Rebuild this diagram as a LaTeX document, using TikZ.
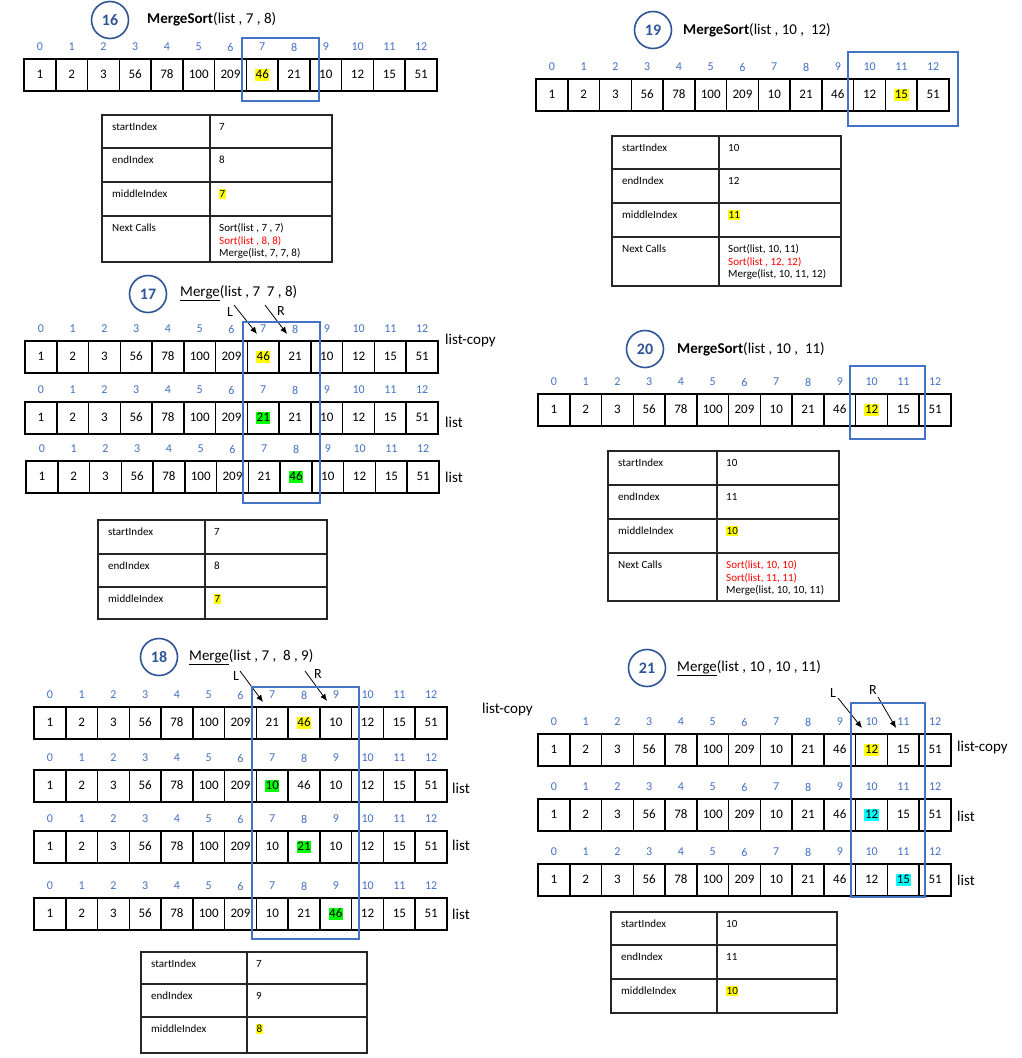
\documentclass[tikz,border=0pt]{standalone}
\usepackage{fontspec}
\setmainfont{Carlito}
\usetikzlibrary{arrows.meta}

\definecolor{idxblue}{HTML}{4472C4}
\definecolor{ringblue}{HTML}{2F5597}
\definecolor{hlyellow}{HTML}{FFFF00}
\definecolor{hlgreen}{HTML}{00FF00}
\definecolor{hlcyan}{HTML}{00FFFF}
\definecolor{callred}{HTML}{FF0000}
\definecolor{gridgray}{HTML}{262626}

% highlighted number inside an array cell
\newcommand{\hlnum}[2]{{\setlength{\fboxsep}{0.6pt}\colorbox{#1}{\rule[-1.5pt]{0pt}{10pt}#2}}}
% highlighted value inside a table
\newcommand{\thl}[1]{{\setlength{\fboxsep}{0.5pt}\colorbox{hlyellow}{\rule[-1.5pt]{0pt}{9pt}#1}}}

\tikzset{
  cellbox/.style={draw, line width=1.5pt, minimum width=31.77pt, minimum height=32pt,
    inner sep=0pt, outer sep=0pt, anchor=north west,
    font=\fontsize{13}{15}\selectfont, text height=9pt, text depth=2pt},
  rowframe/.style={draw, line width=2.3pt},
  idxlabel/.style={text=idxblue, inner sep=0pt, font=\fontsize{12}{14}\selectfont},
  selbox/.style={draw=idxblue, line width=1.8pt},
  ring/.style={circle, draw=ringblue, line width=1.6pt, minimum size=37pt, inner sep=0pt,
    text=ringblue, font=\bfseries\fontsize{16}{18}\selectfont},
  title/.style={anchor=west, inner sep=0pt, font=\fontsize{15}{18}\selectfont},
  side/.style={anchor=west, inner sep=0pt, font=\fontsize{15}{18}\selectfont},
  ptrlabel/.style={inner sep=0pt, font=\fontsize{14}{16}\selectfont},
  ptr/.style={draw, line width=0.8pt, -{Latex[length=7pt,width=6pt]}},
  tcell/.style={draw=gridgray, line width=1.2pt, anchor=north west, inner sep=0pt, outer sep=0pt},
  ttext/.style={anchor=base west, inner sep=0pt, font=\fontsize{11}{12.5}\selectfont},
  tlines/.style={anchor=north west, inner sep=0pt, align=left, font=\fontsize{11}{12.5}\selectfont},
}

% one array of 13 cells with its index numbers
% #1 name, #2 left x, #3 top y, #4 values, #5 highlighted index, #6 highlight colour
\newcommand{\cellrow}[6]{%
  \foreach \v [count=\i from 0] in {#4}{%
    \node[cellbox] (#1-\i) at ({#2+\i*31.77},#3) {\ifnum\i=#5\relax\hlnum{#6}{\v}\else\v\fi};
    \node[idxlabel] (#1-n\i) at ([yshift=12pt]#1-\i.north) {\i};
  }
  \draw[rowframe] (#1-0.north west) rectangle (#1-12.south east);
}

% one table row: #1 name, #2 left x, #3 split x, #4 right x, #5 top y, #6 bottom y, #7 label, #8 value
\newcommand{\trow}[8]{%
  \pgfmathsetmacro\tlw{#3-#2}\pgfmathsetmacro\trw{#4-#3}\pgfmathsetmacro\trh{#6-#5}%
  \node[tcell, minimum width=\tlw pt, minimum height=\trh pt] (#1-a) at (#2,#5) {};
  \node[tcell, minimum width=\trw pt, minimum height=\trh pt] (#1-b) at (#3,#5) {};
  \node[ttext] (#1-l) at ([xshift=10pt,yshift=-15pt]#1-a.north west) {#7};
  \node[ttext] (#1-v) at ([xshift=9pt,yshift=-15pt]#1-b.north west) {#8};
}
% the "Next Calls" row with several lines of calls
\newcommand{\tnextrow}[7]{%
  \pgfmathsetmacro\tlw{#3-#2}\pgfmathsetmacro\trw{#4-#3}\pgfmathsetmacro\trh{#6-#5}%
  \node[tcell, minimum width=\tlw pt, minimum height=\trh pt] (#1-a) at (#2,#5) {};
  \node[tcell, minimum width=\trw pt, minimum height=\trh pt] (#1-b) at (#3,#5) {};
  \node[ttext] (#1-l) at ([xshift=10pt,yshift=-15pt]#1-a.north west) {Next Calls};
  \node[tlines] (#1-v) at ([xshift=9pt,yshift=-7.3pt]#1-b.north west) {#7};
}

\begin{document}
\begin{tikzpicture}[x=1pt,y=-1pt]
\fill[white] (0,0) rectangle (1021,1058);
\useasboundingbox (0,0) rectangle (1021,1058);

% ---------------- step 16 ----------------
\node[ring] (c16) at (110,20) {16};
\node[title] (h16) at (147,19) {\textbf{MergeSort}(list , 7 , 8)};
\cellrow{a16}{24}{59}{1,2,3,56,78,100,209,46,21,10,12,15,51}{7}{hlyellow}
\draw[selbox] (242,38) rectangle (319,101);
\trow{t16r1}{102}{210}{332}{115}{148}{startIndex}{7}
\trow{t16r2}{102}{210}{332}{148}{182}{endIndex}{8}
\trow{t16r3}{102}{210}{332}{182}{216}{middleIndex}{\thl{7}}
\tnextrow{t16r4}{102}{210}{332}{216}{262}{Sort(list , 7 , 7)\\\textcolor{callred}{Sort(list , 8, 8)}\\Merge(list, 7, 7, 8)}

% ---------------- step 17 ----------------
\node[ring] (c17) at (148,294) {17};
\node[title] (h17) at (180,293) {\underline{Merge}(list , 7~~7 , 8)};
\node[ptrlabel] (l17) at (230,312) {L};
\node[ptrlabel] (r17) at (281,311) {R};
\coordinate (l17s) at (234,305); \coordinate (l17e) at (257,334);
\coordinate (r17s) at (265,305); \coordinate (r17e) at (287,334);
\draw[ptr] (l17s) -- (l17e);
\draw[ptr] (r17s) -- (r17e);
\cellrow{a17x}{25}{341}{1,2,3,56,78,100,209,46,21,10,12,15,51}{7}{hlyellow}
\cellrow{a17y}{25}{402}{1,2,3,56,78,100,209,21,21,10,12,15,51}{7}{hlgreen}
\cellrow{a17z}{26}{461}{1,2,3,56,78,100,209,21,46,10,12,15,51}{8}{hlgreen}
\draw[selbox] (243,322) rectangle (320,503);
\node[side] (s17x) at (445,340) {list-copy};
\node[side] (s17y) at (445,422) {list};
\node[side] (s17z) at (445,477) {list};
\trow{t17r1}{98}{205}{327}{520}{554}{startIndex}{7}
\trow{t17r2}{98}{205}{327}{554}{587}{endIndex}{8}
\trow{t17r3}{98}{205}{327}{587}{619}{middleIndex}{\thl{7}}

% ---------------- step 18 ----------------
\node[ring] (c18) at (159,657) {18};
\node[title] (h18) at (189,657) {\underline{Merge}(list , 7 ,~ 8 , 9)};
\node[ptrlabel] (l18) at (236,676) {L};
\node[ptrlabel] (r18) at (318,674) {R};
\coordinate (l18s) at (240,671); \coordinate (l18e) at (263,702);
\coordinate (r18s) at (305,671); \coordinate (r18e) at (327,701);
\draw[ptr] (l18s) -- (l18e);
\draw[ptr] (r18s) -- (r18e);
\cellrow{a18w}{34}{707}{1,2,3,56,78,100,209,21,46,10,12,15,51}{8}{hlyellow}
\cellrow{a18x}{34}{770}{1,2,3,56,78,100,209,10,46,10,12,15,51}{7}{hlgreen}
\cellrow{a18y}{34}{831}{1,2,3,56,78,100,209,10,21,10,12,15,51}{8}{hlgreen}
\cellrow{a18z}{34}{898}{1,2,3,56,78,100,209,10,21,46,12,15,51}{9}{hlgreen}
\draw[selbox] (252,687) rectangle (359,939);
\node[side] (s18w) at (482,709) {list-copy};
\node[side] (s18x) at (452,788) {list};
\node[side] (s18y) at (452,845) {list};
\node[side] (s18z) at (452,914) {list};
\trow{t18r1}{141}{247}{367}{952}{984}{startIndex}{7}
\trow{t18r2}{141}{247}{367}{984}{1017}{endIndex}{9}
\trow{t18r3}{141}{247}{367}{1017}{1053}{middleIndex}{\thl{8}}

% ---------------- step 19 ----------------
\node[ring] (c19) at (653,30) {19};
\node[title] (h19) at (683,30) {\textbf{MergeSort}(list , 10 ,~ 12)};
\cellrow{a19}{536}{79}{1,2,3,56,78,100,209,10,21,46,12,15,51}{11}{hlyellow}
\draw[selbox] (848,52) rectangle (958,126);
\trow{t19r1}{612}{719}{841}{136}{169}{startIndex}{10}
\trow{t19r2}{612}{719}{841}{169}{203}{endIndex}{12}
\trow{t19r3}{612}{719}{841}{203}{237}{middleIndex}{\thl{11}}
\tnextrow{t19r4}{612}{719}{841}{237}{286}{Sort(list, 10, 11)\\\textcolor{callred}{Sort(list , 12, 12)}\\Merge(list, 10, 11, 12)}

% ---------------- step 20 ----------------
\node[ring] (c20) at (645,349) {20};
\node[title] (h20) at (677,349) {\textbf{MergeSort}(list , 10 ,~ 11)};
\cellrow{a20}{538}{394}{1,2,3,56,78,100,209,10,21,46,12,15,51}{10}{hlyellow}
\draw[selbox] (850,366) rectangle (925,439);
\trow{t20r1}{608}{717}{839}{451}{485}{startIndex}{10}
\trow{t20r2}{608}{717}{839}{485}{519}{endIndex}{11}
\trow{t20r3}{608}{717}{839}{519}{553}{middleIndex}{\thl{10}}
\tnextrow{t20r4}{608}{717}{839}{553}{601}{\textcolor{callred}{Sort(list, 10, 10)}\\\textcolor{callred}{Sort(list, 11, 11)}\\Merge(list, 10, 10, 11)}

% ---------------- step 21 ----------------
\node[ring] (c21) at (647,668) {21};
\node[title] (h21) at (677,668) {\underline{Merge}(list , 10 , 10 , 11)};
\node[ptrlabel] (l21) at (833,693) {L};
\node[ptrlabel] (r21) at (873,690) {R};
\coordinate (l21s) at (838,698); \coordinate (l21e) at (862,728);
\coordinate (r21s) at (878,697); \coordinate (r21e) at (896,728);
\draw[ptr] (l21s) -- (l21e);
\draw[ptr] (r21s) -- (r21e);
\cellrow{a21x}{538}{734}{1,2,3,56,78,100,209,10,21,46,12,15,51}{10}{hlyellow}
\cellrow{a21y}{538}{799}{1,2,3,56,78,100,209,10,21,46,12,15,51}{10}{hlcyan}
\cellrow{a21z}{538}{864}{1,2,3,56,78,100,209,10,21,46,12,15,51}{11}{hlcyan}
\draw[selbox] (851,703) rectangle (925,897);
\node[side] (s21x) at (957,747) {list-copy};
\node[side] (s21y) at (957,816) {list};
\node[side] (s21z) at (957,880) {list};
\trow{t21r1}{611}{717}{837}{912}{945}{startIndex}{10}
\trow{t21r2}{611}{717}{837}{945}{979}{endIndex}{11}
\trow{t21r3}{611}{717}{837}{979}{1013}{middleIndex}{\thl{10}}
\end{tikzpicture}
\end{document}
